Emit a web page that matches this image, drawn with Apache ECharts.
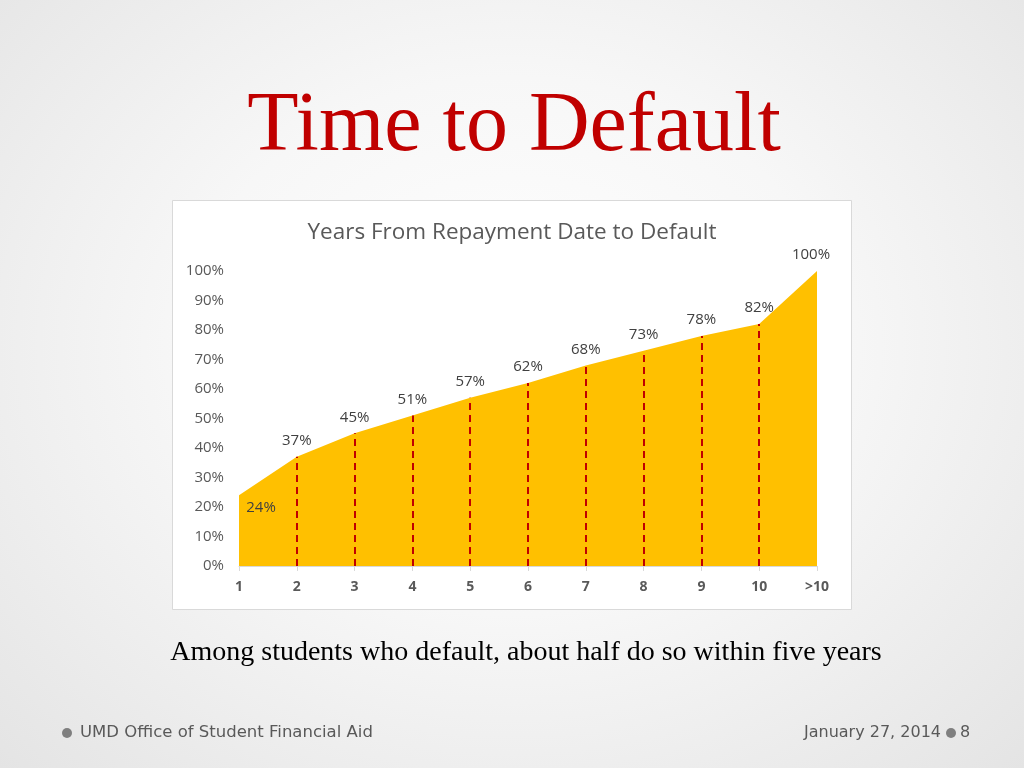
<!DOCTYPE html>
<html><head><meta charset="utf-8">
<script src="https://cdn.jsdelivr.net/npm/echarts@6/dist/echarts.min.js"></script>
<style>
html,body{margin:0;padding:0;width:1024px;height:768px;overflow:hidden;}
body{background:radial-gradient(ellipse at 50% 45%, #ffffff 0%, #f7f7f7 45%, #e4e4e4 100%);}
#c{width:1024px;height:768px;}
</style></head>
<body><div id="c"></div>
<script>
const categories = ['1','2','3','4','5','6','7','8','9','10','>10'];
const values = [24,37,45,51,57,62,68,73,78,82,100];
const yTicks = [0,10,20,30,40,50,60,70,80,90,100];
const pageTitle = 'Time to Default';
const chartTitle = 'Years From Repayment Date to Default';
const caption = 'Among students who default, about half do so within five years';
const footerLeft = 'UMD Office of Student Financial Aid';
const footerRight = 'January 27, 2014';
const pageNum = '8';

const chart = echarts.init(document.getElementById('c'));
const seriesData = values.map((v, i) => {
  if (i === 0) return {value: v, label: {position: 'bottom', offset: [22, -3]}};
  if (i === values.length - 1) return {value: v, label: {offset: [-6, 0]}};
  return v;
});
const dashLines = values.slice(1, values.length - 1).map((v, k) => {
  const i = k + 1;
  return [{coord: [categories[i], 0]}, {coord: [categories[i], v]}];
});
chart.setOption({
  animation: false,
  grid: {left: 239, right: 207, top: 271, bottom: 202},
  graphic: [
    {type: 'rect', shape: {x: 172.5, y: 200.5, width: 679, height: 409}, style: {fill: '#ffffff', stroke: '#d9d9d9', lineWidth: 1}, z: -10},
    {type: 'text', x: 514, y: 128, style: {text: pageTitle, font: '84px "Liberation Serif", serif', fill: '#c00000', align: 'center', verticalAlign: 'middle', shadowColor: 'rgba(0,0,0,0.35)', shadowBlur: 3, shadowOffsetX: 2, shadowOffsetY: 2}},
    {type: 'text', x: 512, y: 233, style: {text: chartTitle, font: '22.5px "Open Sans", sans-serif', fill: '#595959', align: 'center', verticalAlign: 'middle'}},
    {type: 'text', x: 526, y: 653, style: {text: caption, font: '28px "Liberation Serif", serif', fill: '#000000', align: 'center', verticalAlign: 'middle'}},
    {type: 'circle', shape: {cx: 67, cy: 733, r: 5}, style: {fill: '#7f7f7f'}},
    {type: 'text', x: 80, y: 733, style: {text: footerLeft, font: '16.5px "DejaVu Sans", sans-serif', fill: '#595959', verticalAlign: 'middle'}},
    {type: 'text', x: 941, y: 733, style: {text: footerRight, font: '16px "DejaVu Sans", sans-serif', fill: '#595959', align: 'right', verticalAlign: 'middle'}},
    {type: 'circle', shape: {cx: 951, cy: 733, r: 5}, style: {fill: '#7f7f7f'}},
    {type: 'text', x: 960, y: 733, style: {text: pageNum, font: '16px "DejaVu Sans", sans-serif', fill: '#595959', verticalAlign: 'middle'}}
  ],
  xAxis: {
    type: 'category', data: categories, boundaryGap: false,
    axisLine: {lineStyle: {color: '#d9d9d9'}},
    axisTick: {show: true, lineStyle: {color: '#d9d9d9'}},
    axisLabel: {color: '#595959', fontWeight: 'bold', fontSize: 14, fontFamily: 'Open Sans', margin: 14}
  },
  yAxis: {
    type: 'value', min: 0, max: 100, interval: 10,
    splitLine: {show: false},
    axisLine: {show: false}, axisTick: {show: false},
    axisLabel: {color: '#595959', fontSize: 15, fontFamily: 'Open Sans', margin: 15, formatter: v => yTicks.includes(v) ? v + '%' : ''}
  },
  series: [{
    type: 'line', data: seriesData, symbol: 'circle', symbolSize: 1, showSymbol: true,
    itemStyle: {color: 'rgba(0,0,0,0)'},
    lineStyle: {width: 0},
    areaStyle: {color: '#ffc000', opacity: 1},
    label: {show: true, position: 'top', distance: 8, color: '#404040', fontSize: 15, fontFamily: 'Open Sans', formatter: p => p.value + '%'},
    markLine: {
      silent: true, symbol: 'none', label: {show: false},
      lineStyle: {color: '#c00000', type: [7, 5], width: 2},
      data: dashLines
    }
  }]
});
</script></body></html>
